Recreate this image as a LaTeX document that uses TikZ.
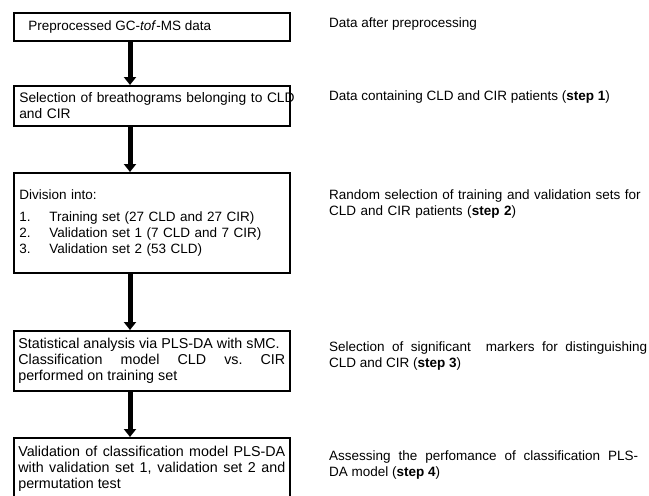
\documentclass[tikz,border=0pt]{standalone}
\usepackage{fontspec}
\setmainfont{Liberation Sans}
\usepackage{tikz}
\usetikzlibrary{positioning}
\usetikzlibrary{arrows.meta}

\tikzset{
  stepbox/.style={draw, line width=1.6pt, anchor=north west, inner xsep=5.5pt,
    inner ysep=0pt, text width=265pt, align=justify,
    font=\fontsize{13.5}{16}\selectfont},
  bigbox/.style={stepbox, inner xsep=4.5pt, text width=267pt,
    font=\fontsize{14.3}{15.8}\selectfont},
  sidenote/.style={anchor=west, inner sep=0pt, align=justify,
    font=\fontsize{13.5}{16.5}\selectfont},
  flow/.style={line width=5pt, -{Triangle[length=8pt,width=12pt]}}
}

\begin{document}
\begin{tikzpicture}[x=1pt, y=-1pt]
  \useasboundingbox (0,0) rectangle (649,496);
  % Boxes
  \node[stepbox, minimum height=28pt] (prep) at (13,12)
    {\hspace*{9pt}Preprocessed GC-\textit{tof}-MS data};
  \node[stepbox, minimum height=40pt, align=left,
    font=\fontsize{13.8}{16}\selectfont] (sel) at (13,85)
    {\mbox{Selection of breathograms belonging to CLD}\\and CIR};
  \node[stepbox, minimum height=100pt, align=left] (div) at (13,172)
    {Division into:\\[6pt]
     \makebox[30pt][l]{1.}Training set (27 CLD and 27 CIR)\\
     \makebox[30pt][l]{2.}Validation set 1 (7 CLD and 7 CIR)\\
     \makebox[30pt][l]{3.}Validation set 2 (53 CLD)};
  \node[bigbox, minimum height=60pt] (stat) at (13,330)
    {Statistical analysis via PLS-DA with sMC.\newline
     Classification model CLD vs.\ CIR\linebreak
     performed on training set};
  \node[bigbox, minimum height=62pt] (valid) at (13,437)
    {Validation of classification model PLS-DA\linebreak
     with validation set 1, validation set 2 and\linebreak
     permutation test};
  % Arrows
  \coordinate (ax) at (130,0);
  \draw[flow] (prep.south -| ax) -- (sel.north -| ax);
  \draw[flow] (sel.south -| ax) -- (div.north -| ax);
  \draw[flow] (div.south -| ax) -- (stat.north -| ax);
  \draw[flow] (stat.south -| ax) -- (valid.north -| ax);
  % Notes on the right
  \node[sidenote, text width=300pt] (n0) at (329,24) {Data after preprocessing};
  \node[sidenote, text width=318pt] (n1) at (329,97)
    {Data containing CLD and CIR patients (\textbf{step 1})};
  \node[sidenote, text width=318pt, align=left] (n2) at (329,204)
    {Random selection of training and validation sets for\\
     CLD and CIR patients (\textbf{step 2})};
  \node[sidenote, text width=318pt] (n3) at (329,356)
    {Selection of significant\ \ markers for distinguishing\linebreak
     CLD and CIR (\textbf{step 3})};
  \node[sidenote, text width=309pt] (n4) at (329,465)
    {Assessing the perfomance of classification PLS-\linebreak
     DA model (\textbf{step 4})};
\end{tikzpicture}
\end{document}
